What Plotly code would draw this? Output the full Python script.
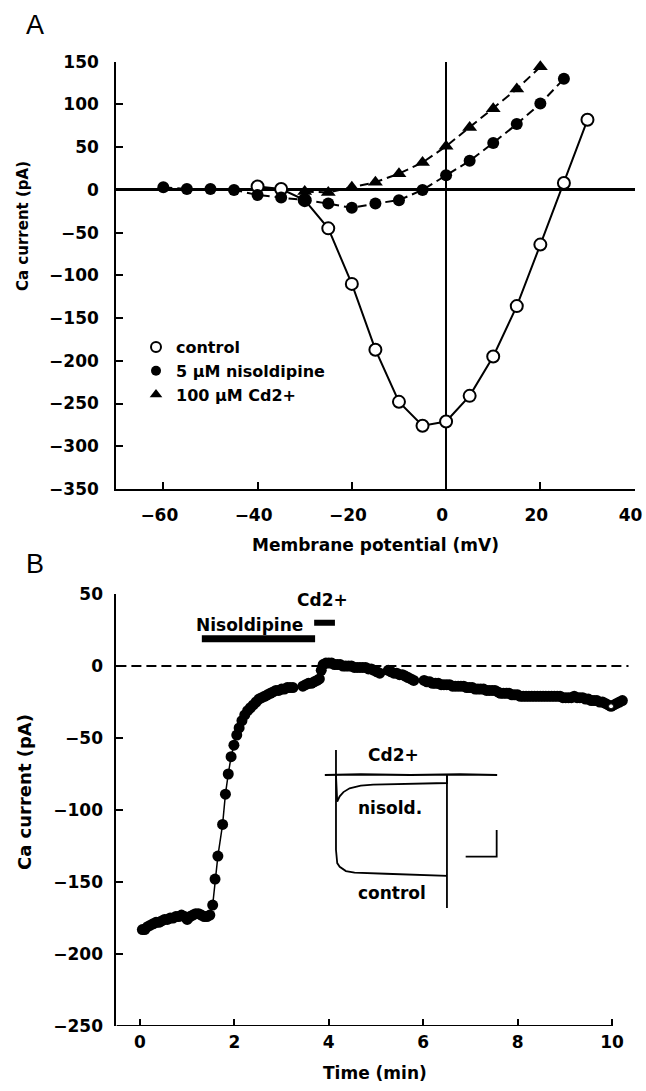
import plotly.graph_objects as go

# ---------------- Panel A data (I-V relation) ----------------
vm_control = [-40, -35, -30, -25, -20, -15, -10, -5, 0, 5, 10, 15, 20, 25, 30]
i_control = [4, 1, -12, -45, -110, -187, -248, -276, -271, -241, -195, -136, -64, 8, 82]

vm_nisol = [-60, -55, -50, -45, -40, -35, -30, -25, -20, -15, -10, -5, 0, 5, 10, 15, 20, 25]
i_nisol = [3, 1, 1, 0, -6, -9, -12, -16, -21, -16, -12, 0, 17, 34, 55, 77, 101, 130]

vm_cd = [-30, -25, -20, -15, -10, -5, 0, 5, 10, 15, 20]
i_cd = [-2, -3, 3, 9, 19, 32, 51, 73, 95, 118, 144]

legend_names = ["control", "5 \u03bcM nisoldipine", "100 \u03bcM Cd2+"]

a_xticks = [-60, -40, -20, 0, 20, 40]
a_yticks = [150, 100, 50, 0, -50, -100, -150, -200, -250, -300, -350]
a_xrange = [-70, 40]
a_yrange = [-350, 150]

# ---------------- Panel B data (time course) ----------------
time_min = [
    0.05, 0.10, 0.16, 0.22, 0.28, 0.34, 0.40, 0.46, 0.52, 0.58, 0.64, 0.70, 0.76, 0.82,
    0.88, 0.94, 1.00, 1.06, 1.12, 1.18, 1.24, 1.30, 1.36, 1.42, 1.48,
    1.54, 1.59, 1.65, 1.75, 1.81, 1.87, 1.93, 1.99, 2.05, 2.10, 2.16, 2.22, 2.28, 2.34,
    2.40, 2.46, 2.52, 2.58, 2.64, 2.70, 2.76, 2.82, 2.88, 2.94, 3.00, 3.06, 3.12, 3.18, 3.24,
    3.45, 3.51, 3.57, 3.63, 3.69, 3.75, 3.80, 3.84, 3.88, 3.94, 4.00, 4.06, 4.12, 4.18,
    4.24, 4.30, 4.36, 4.42, 4.48, 4.54, 4.60, 4.66, 4.72, 4.78, 4.84, 4.90, 4.96, 5.02, 5.08,
    5.26, 5.32, 5.38, 5.44, 5.50, 5.56, 5.62, 5.68, 5.74, 5.80,
    6.02, 6.08, 6.14, 6.20, 6.26, 6.32, 6.38, 6.44, 6.50, 6.56, 6.62, 6.68, 6.74, 6.80,
    6.86, 6.92, 6.98, 7.04, 7.10, 7.16, 7.22, 7.28, 7.34, 7.40, 7.46, 7.52, 7.58, 7.64,
    7.70, 7.76, 7.82, 7.88, 7.94, 8.00, 8.06, 8.12, 8.18, 8.24, 8.30, 8.36, 8.42, 8.48,
    8.54, 8.60, 8.66, 8.72, 8.78, 8.84, 8.90, 8.96, 9.02, 9.08, 9.14, 9.20, 9.26, 9.32,
    9.38, 9.44, 9.50, 9.56, 9.62, 9.68, 9.74, 9.80, 9.86, 9.92, 9.98, 10.04, 10.10, 10.16, 10.22,
]
current_pA = [
    -183, -183, -181, -180, -179, -178, -178, -177, -176, -176, -175, -175, -174, -174,
    -173, -174, -176, -174, -173, -172, -172, -173, -174, -174, -173,
    -166, -148, -132, -110, -89, -75, -63, -55, -48, -43, -38, -34, -31, -29,
    -27, -25, -23, -22, -21, -20, -19, -18, -17, -17, -16, -16, -15, -15, -15,
    -14, -13, -12, -12, -11, -10, -9, -3, 1, 2, 2, 2, 1, 1,
    1, 0, 0, 0, 0, -1, -1, -1, -1, -1, -2, -2, -3, -4, -5,
    -3, -4, -5, -5, -6, -6, -7, -8, -9, -10,
    -10, -11, -11, -12, -12, -12, -13, -13, -13, -13, -14, -14, -14, -14,
    -14, -15, -15, -15, -16, -16, -16, -16, -17, -17, -17, -17, -18, -19,
    -19, -19, -19, -20, -20, -20, -21, -21, -21, -21, -21, -21, -21, -21,
    -21, -21, -21, -21, -21, -21, -21, -22, -22, -22, -22, -21, -22, -22,
    -22, -23, -23, -24, -24, -24, -25, -25, -26, -27, -28, -27, -26, -25, -24,
]
last_open_t = [9.98]
last_open_i = [-28]

b_xticks = [0, 2, 4, 6, 8, 10]
b_yticks = [50, 0, -50, -100, -150, -200, -250]
b_xrange = [-0.5, 10.35]
b_xaxis_end = 10
b_yrange = [-250, 50]

nisol_bar_t = [1.31, 3.71]
nisol_bar_y = [19, 19]
cd_bar_t = [3.69, 4.13]
cd_bar_y = [30, 30]

# ---------------- Inset (raw current traces, ms / pA) ----------------
inset_t_cd = [-9, 20, 60, 100, 130]
inset_i_cd = [0, 1, 0, 1, 0]
inset_t_ctrl = [0, 0, 0, 1, 3, 8, 15, 40, 65, 89.5, 89.5, 89.5]
inset_i_ctrl = [0, 47, -140, -165, -172, -180, -183, -185, -187, -189, -249, 0]
inset_t_nis = [0, 1, 3, 6, 11, 20, 30, 50, 70, 89.5, 89.5]
inset_i_nis = [0, -50, -40, -32, -25, -20, -18, -17, -16, -15, 0]
scalebar_t = [104.6, 129.6, 129.6]
scalebar_i = [-153, -153, -103]
inset_xrange = [-14.5, 133.9]
inset_yrange = [-256.6, 56.2]

FONT = "DejaVu Sans"
W, H = 646, 1091


def px_x(p):
    return p / W


def px_y(p):
    return 1 - p / H


fig = go.Figure()

# Panel A traces
fig.add_trace(go.Scatter(
    x=vm_control, y=i_control, mode="lines+markers", showlegend=False,
    line=dict(color="black", width=2),
    marker=dict(symbol="circle", size=12, color="white", line=dict(color="black", width=2)),
    xaxis="x", yaxis="y", cliponaxis=False))
fig.add_trace(go.Scatter(
    x=vm_nisol, y=i_nisol, mode="lines+markers", showlegend=False,
    line=dict(color="black", width=2, dash="9px,5px"),
    marker=dict(symbol="circle", size=12, color="black"),
    xaxis="x", yaxis="y", cliponaxis=False))
fig.add_trace(go.Scatter(
    x=vm_cd, y=i_cd, mode="lines+markers", showlegend=False,
    line=dict(color="black", width=2, dash="9px,5px"),
    marker=dict(symbol="triangle-up", size=13, color="black"),
    xaxis="x", yaxis="y", cliponaxis=False))

# Legend-only entries (markers without lines)
leg_markers = [
    dict(symbol="circle", size=10, color="white", line=dict(color="black", width=2)),
    dict(symbol="circle", size=10, color="black"),
    dict(symbol="triangle-up", size=11, color="black"),
]
for nm, mk in zip(legend_names, leg_markers):
    fig.add_trace(go.Scatter(x=[None], y=[None], mode="markers", name=nm, marker=mk,
                             xaxis="x", yaxis="y"))

# Panel B traces
fig.add_trace(go.Scatter(
    x=time_min, y=current_pA, mode="lines+markers", showlegend=False,
    line=dict(color="black", width=1.5),
    marker=dict(symbol="circle", size=11, color="black"),
    xaxis="x2", yaxis="y2", cliponaxis=False))
fig.add_trace(go.Scatter(
    x=last_open_t, y=last_open_i, mode="markers", showlegend=False,
    marker=dict(symbol="circle", size=5, color="white", line=dict(color="black", width=1)),
    xaxis="x2", yaxis="y2", cliponaxis=False))
fig.add_trace(go.Scatter(
    x=nisol_bar_t, y=nisol_bar_y, mode="lines", showlegend=False,
    line=dict(color="black", width=7), xaxis="x2", yaxis="y2"))
fig.add_trace(go.Scatter(
    x=cd_bar_t, y=cd_bar_y, mode="lines", showlegend=False,
    line=dict(color="black", width=6), xaxis="x2", yaxis="y2"))

# Inset traces
for tt, ii, w in [(inset_t_cd, inset_i_cd, 2.2), (inset_t_ctrl, inset_i_ctrl, 1.8),
                  (inset_t_nis, inset_i_nis, 1.8), (scalebar_t, scalebar_i, 1.8)]:
    fig.add_trace(go.Scatter(x=tt, y=ii, mode="lines", showlegend=False,
                             line=dict(color="black", width=w), xaxis="x3", yaxis="y3"))

tickfont = dict(family=FONT, size=17, color="black", weight="bold")
common = dict(showgrid=False, ticks="inside", ticklen=7, tickwidth=1.5, tickcolor="black",
              linecolor="black", linewidth=2, tickfont=tickfont, automargin=False,
              ticklabeloverflow="allow")

fig.update_layout(
    width=W, height=H, autosize=False,
    margin=dict(l=0, r=0, t=0, b=0),
    paper_bgcolor="white", plot_bgcolor="white",
    font=dict(family=FONT, color="black"),
    xaxis=dict(domain=[px_x(116.2), px_x(634.6)], range=a_xrange, tickvals=a_xticks,
               showline=True, zeroline=True, zerolinecolor="black", zerolinewidth=1.8,
               anchor="y", ticklabelstandoff=10, ticklabelshift=-4, **common),
    yaxis=dict(domain=[px_y(489), px_y(61.7)], range=a_yrange, tickvals=a_yticks,
               showline=True, zeroline=True, zerolinecolor="black", zerolinewidth=2.5,
               anchor="x", ticklabelstandoff=12, **common),
    xaxis2=dict(domain=[px_x(116.4), px_x(628.5)], range=b_xrange, tickvals=b_xticks,
                showline=False, zeroline=False, anchor="y2", ticklabelstandoff=4, **common),
    yaxis2=dict(domain=[px_y(1026), px_y(594)], range=b_yrange, tickvals=b_yticks,
                showline=True, zeroline=False, anchor="x2", ticklabelstandoff=8, **common),
    xaxis3=dict(domain=[px_x(318), px_x(502)], range=inset_xrange, visible=False, anchor="y3"),
    yaxis3=dict(domain=[px_y(912), px_y(745)], range=inset_yrange, visible=False, anchor="x3"),
    legend=dict(x=px_x(136), y=px_y(330), xanchor="left", yanchor="top",
                bgcolor="rgba(0,0,0,0)", tracegroupgap=0,
                font=dict(family=FONT, size=16, color="black", weight="bold"),
                itemsizing="trace"),
)

# Panel B: dashed zero reference line and bottom axis line ending at 10 min
fig.add_shape(type="line", xref="x2 domain", yref="y2", x0=0, x1=1, y0=0, y1=0,
              line=dict(color="black", width=2, dash="10px,5px"))
fig.add_shape(type="line", xref="x2", yref="y2", x0=b_xrange[0], x1=b_xaxis_end,
              y0=b_yrange[0], y1=b_yrange[0], line=dict(color="black", width=2))

lab = dict(family=FONT, size=17, color="black", weight="bold")
C = dict(showarrow=False, xanchor="center", yanchor="middle")
annots = [
    dict(text="A", x=px_x(35), y=px_y(25), xref="paper", yref="paper",
         font=dict(family="Liberation Sans", size=27, color="black"), **C),
    dict(text="B", x=px_x(35), y=px_y(564), xref="paper", yref="paper",
         font=dict(family="Liberation Sans", size=27, color="black"), **C),
    dict(text="Membrane potential (mV)", x=px_x(375), y=px_y(545), xref="paper", yref="paper",
         font=lab, **C),
    dict(text="Ca current (pA)", x=px_x(23), y=px_y(226), xref="paper", yref="paper",
         textangle=-90, font=dict(family=FONT, size=15, color="black", weight="bold"), **C),
    dict(text="Ca current (pA)", x=px_x(24), y=px_y(792), xref="paper", yref="paper",
         textangle=-90, font=dict(family=FONT, size=18, color="black", weight="bold"), **C),
    dict(text="Time (min)", x=px_x(375), y=px_y(1073), xref="paper", yref="paper",
         font=lab, **C),
    dict(text="Nisoldipine", x=2.32, y=28.6, xref="x2", yref="y2", font=lab, **C),
    dict(text="Cd2+", x=3.86, y=46, xref="x2", yref="y2", font=lab, **C),
    dict(text="Cd2+", x=46, y=37.5, xref="x3", yref="y3", font=lab, **C),
    dict(text="nisold.", x=43.5, y=-62, xref="x3", yref="y3", font=lab, **C),
    dict(text="control", x=45, y=-221, xref="x3", yref="y3", font=lab, **C),
]
fig.update_layout(annotations=annots)

fig.write_html(
    "out.html",
    config={"displayModeBar": False},
    post_script="document.body.style.margin='0px';document.body.style.overflow='hidden';",
)
